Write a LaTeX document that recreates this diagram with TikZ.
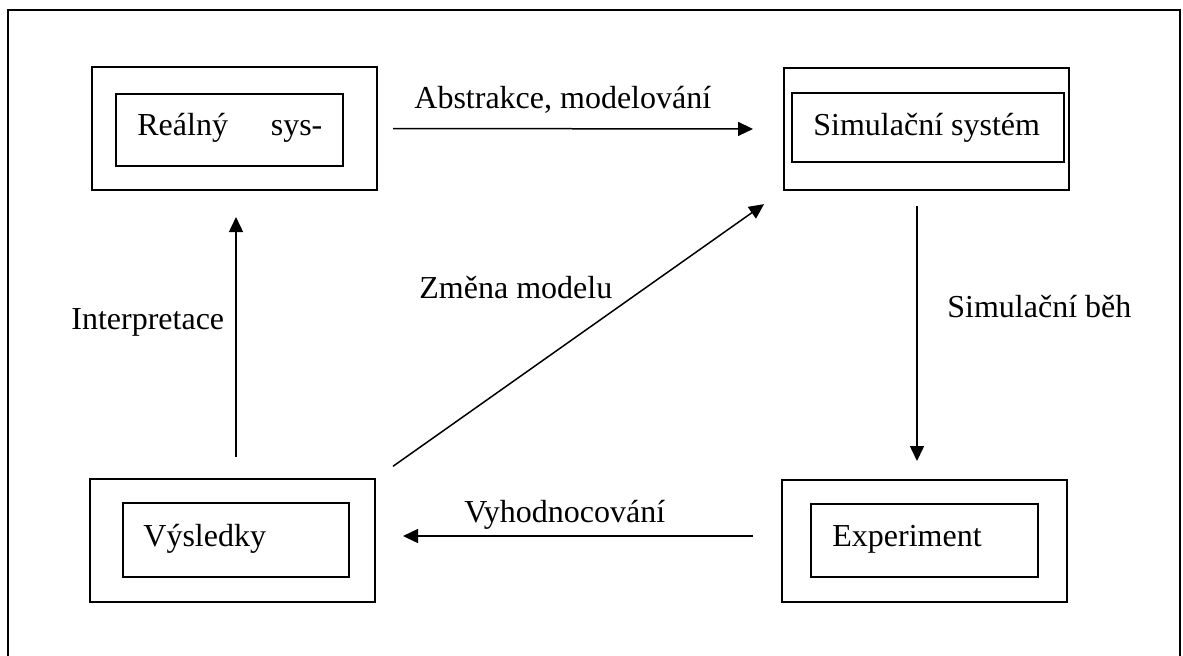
\documentclass[tikz,border=0pt]{standalone}
\usepackage{fontspec}
\setmainfont{Liberation Serif}
\usetikzlibrary{arrows.meta}
\begin{document}
\begin{tikzpicture}[x=0.5pt,y=-0.5pt,
  font=\fontsize{16}{19}\selectfont,
  outerbox/.style={draw,line width=1pt,inner sep=0pt,outer sep=0pt,
    minimum width=142.5pt,minimum height=61.5pt},
  innerbox/.style={draw,line width=0.9pt,inner sep=0pt,outer sep=0pt},
  boxtext/.style={anchor=base west,inner sep=0pt},
  lbl/.style={anchor=base west,inner sep=0pt},
  arr/.style={line width=0.75pt,-{Triangle[length=7.5pt,width=7pt]}}]
\useasboundingbox (0,0) rectangle (1183,655);
\clip (0,0) rectangle (1183,655);
% surrounding frame (runs past the lower edge)
\draw[line width=0.8pt] (8,10) rectangle (1180,690);

% outer boxes
\node[outerbox] (b1) at (234.5,128.5) {};
\node[outerbox,minimum height=61pt] (b2) at (926.5,129) {};
\node[outerbox] (b3) at (232.5,540.5) {};
\node[outerbox,minimum height=61pt] (b4) at (924.5,541) {};

% inner boxes
\node[innerbox,minimum width=113.5pt,minimum height=36pt] (b1in) at (229.5,130) {};
\node[innerbox,minimum width=136pt,minimum height=34.5pt] (b2in) at (928,127.5) {};
\node[innerbox,minimum width=113pt,minimum height=37pt] (b3in) at (236,540) {};
\node[innerbox,minimum width=113.5pt,minimum height=36.5pt] (b4in) at (924.5,540.5) {};

% box texts
\node[boxtext] (t1) at (137,135) {\makebox[92.5pt][l]{Reálný\hfill sys-}};
\node[boxtext] (t2) at (813,135) {Simulační systém};
\node[boxtext] (t3) at (143,546) {Výsledky};
\node[boxtext] (t4) at (832,546) {Experiment};

% connectors
\draw[arr,shorten <=8pt,shorten >=15.5pt] (b1.east) -- (b2.west);
\draw[arr,shorten <=8pt,shorten >=9.5pt]
  ([xshift=-4.75pt]b2.south) -- ([xshift=-3.75pt]b4.north);
\draw[arr,shorten <=14.5pt,shorten >=14pt]
  ([yshift=2.5pt]b4.west) -- ([yshift=2.25pt]b3.east);
\draw[arr,shorten <=11pt,shorten >=13.5pt]
  ([xshift=1.75pt]b3.north) -- ([xshift=0.75pt]b1.south);
\draw[arr,shorten <=11pt,shorten >=12.2pt] (b3.north east) -- (b2.south west);

% connector labels
\node[lbl] (l1) at (414,108) {Abstrakce, modelování};
\node[lbl] (l2) at (947,317) {Simulační běh};
\node[lbl] (l3) at (464,522) {Vyhodnocování};
\node[lbl] (l4) at (71,329) {Interpretace};
\node[lbl] (l5) at (419,298) {Změna modelu};
\end{tikzpicture}
\end{document}
